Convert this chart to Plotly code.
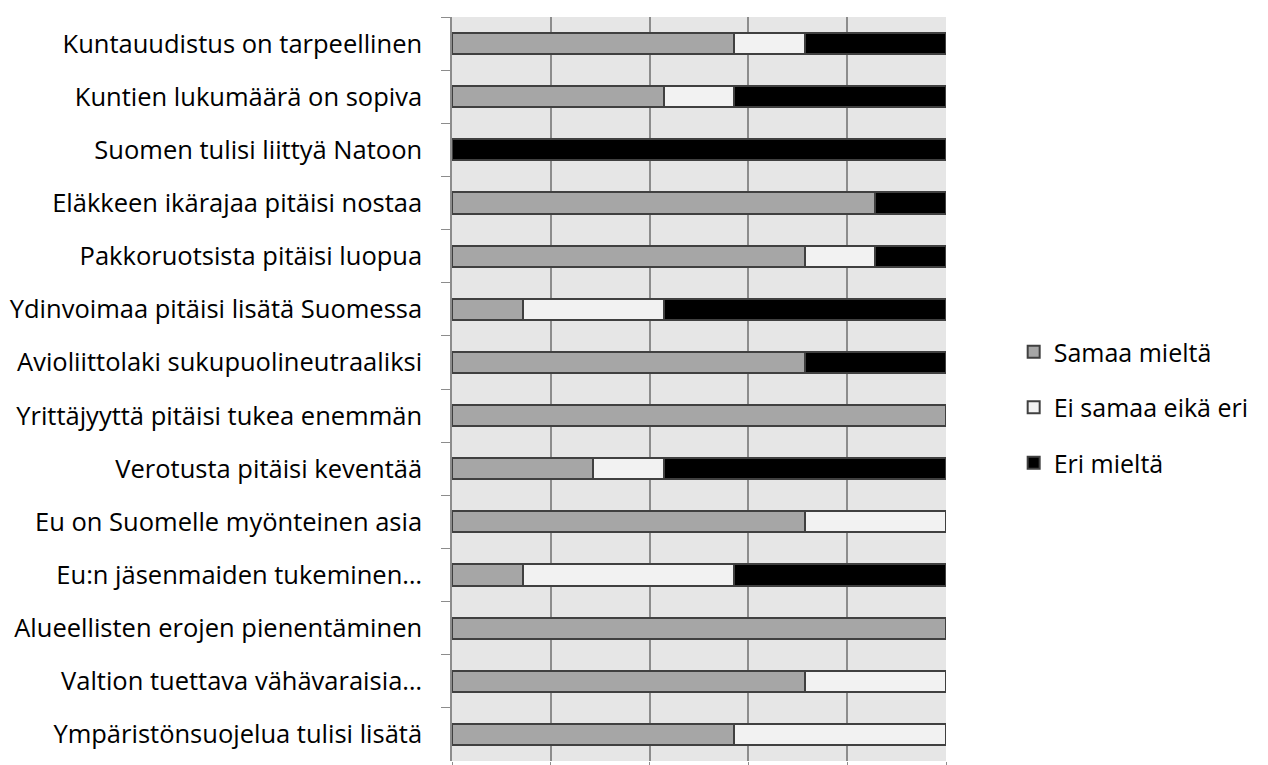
import plotly.graph_objects as go

categories = [
    "Kuntauudistus on tarpeellinen",
    "Kuntien lukumäärä on sopiva",
    "Suomen tulisi liittyä Natoon",
    "Eläkkeen ikärajaa pitäisi nostaa",
    "Pakkoruotsista pitäisi luopua",
    "Ydinvoimaa pitäisi lisätä Suomessa",
    "Avioliittolaki sukupuolineutraaliksi",
    "Yrittäjyyttä pitäisi tukea enemmän",
    "Verotusta pitäisi keventää",
    "Eu on Suomelle myönteinen asia",
    "Eu:n jäsenmaiden tukeminen…",
    "Alueellisten erojen pienentäminen",
    "Valtion tuettava vähävaraisia…",
    "Ympäristönsuojelua tulisi lisätä",
]
samaa = [4, 3, 0, 6, 5, 1, 5, 7, 2, 5, 1, 7, 5, 4]
ei_samaa = [1, 1, 0, 0, 1, 2, 0, 0, 1, 2, 3, 0, 2, 3]
eri = [2, 3, 7, 1, 1, 4, 2, 0, 4, 0, 3, 0, 0, 0]

series = [
    ("Samaa mieltä", samaa, "#a6a6a6"),
    ("Ei samaa eikä eri", ei_samaa, "#f2f2f2"),
    ("Eri mieltä", eri, "#000000"),
]

FONT = "Open Sans"
fig = go.Figure()
for i, (name, vals, col) in enumerate(series):
    fig.add_trace(go.Bar(
        y=categories, x=vals, name=name, orientation="h",
        marker=dict(color=col, line=dict(color="#404040", width=2)),
        legendgroup=f"g{i}",
    ))

fig.update_layout(
    barmode="stack", barnorm="fraction", bargap=0.6,
    width=1268, height=765,
    margin=dict(l=444, r=330, t=9, b=7),
    paper_bgcolor="white", plot_bgcolor="#e6e6e6",
    font=dict(family=FONT, size=25.5, color="#000000"),
    showlegend=True,
    legend=dict(x=1.137, y=0.475, xanchor="left", yanchor="middle",
                font=dict(size=25), tracegroupgap=20, traceorder="grouped",
                itemwidth=30),
    xaxis=dict(range=[0, 1], dtick=0.2, showticklabels=False, showgrid=True,
               gridcolor="#8c8c8c", gridwidth=1.5, zeroline=False,
               ticks="outside", ticklen=5, tickcolor="#8c8c8c",
               showline=False),
    yaxis=dict(autorange="reversed", type="category", ticks="outside",
               tickson="boundaries", ticklen=9, tickcolor="#8c8c8c",
               showline=True, linecolor="#8c8c8c", linewidth=1.5,
               showgrid=False, ticklabelstandoff=23, automargin=False),
)
fig.write_html("out.html")
